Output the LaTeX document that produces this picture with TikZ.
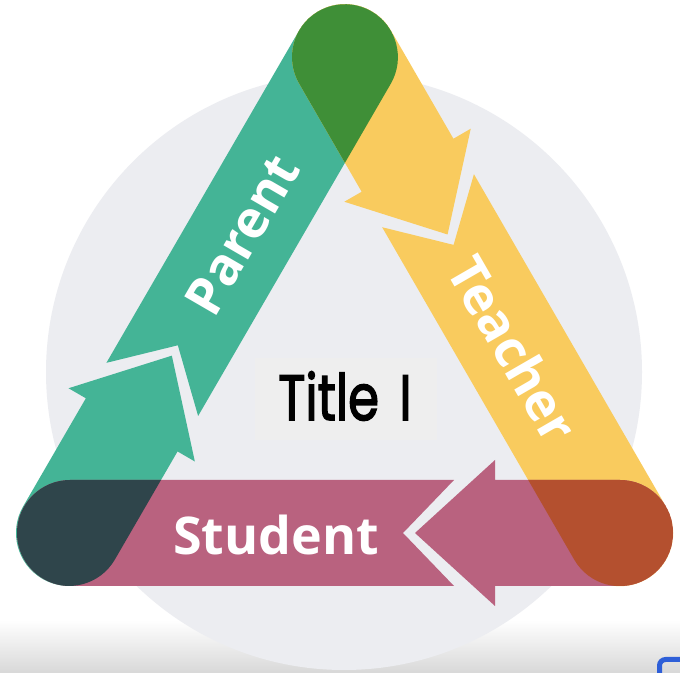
\documentclass[tikz,border=0pt]{standalone}
\usepackage{fontspec}
\usepackage{graphicx}
\setmainfont{Open Sans}
\newfontfamily\titlefont[FakeBold=2.5]{Poppins}
\definecolor{tealc}{HTML}{44B496}
\definecolor{yellowc}{HTML}{F9CB5E}
\definecolor{pinkc}{HTML}{B9627F}
\definecolor{dgreen}{HTML}{3F8F37}
\definecolor{dslate}{HTML}{2F454B}
\definecolor{dorange}{HTML}{B4502F}
\definecolor{circc}{HTML}{ECEDF1}
\definecolor{titlebg}{HTML}{EEEEEE}
\definecolor{uiblue}{HTML}{2E5FD8}
\newcommand\segone{(125,53) -- (0,53) arc[start angle=90,end angle=270,radius=53pt] -- (125,-53) -- (125,-73) -- (205,0) -- (125,73) -- cycle}
\newcommand\segtwo{(166,53) -- (217,0) -- (166,-53) -- (550,-53) arc[start angle=-90,end angle=90,radius=53pt] -- cycle}
\newcommand\mycapsule{(0,53) arc[start angle=90,end angle=270,radius=53pt] -- (550,-53) arc[start angle=-90,end angle=90,radius=53pt] -- cycle}
\tikzset{
  tealband/.style={shift={(69,139)}, rotate=59.89},
  yellowband/.style={shift={(345,615)}, rotate=-59.98},
  pinkband/.style={shift={(620,139)}, rotate=180},
  lbl/.style={text=white, font=\bfseries\fontsize{52}{52}\selectfont, inner sep=0pt}
}
\begin{document}
\begin{tikzpicture}[x=1pt,y=1pt]
\clip (0,0) rectangle (680,672);
\fill[white] (0,0) rectangle (680,672);
\shade[top color=white, bottom color=black!15] (0,0) rectangle (680,52);
\fill[circc] (344,300) circle[radius=298pt];
% title box
\node[fill=titlebg, minimum width=182pt, minimum height=82pt, inner sep=0pt] (box) at (346,273) {};
\node[font=\titlefont\fontsize{64}{64}\selectfont, inner sep=0pt] (title) at (345,276) {\scalebox{0.78}[1]{Title\hspace{26pt}I}};
% bands
\fill[tealc, tealband] \segone \segtwo;
\fill[yellowc, yellowband] \segone \segtwo;
\fill[pinkc, pinkband] \segone \segtwo;
% overlaps
\begin{scope}
  \path[clip, tealband] \mycapsule;
  \fill[dgreen, yellowband] \mycapsule;
\end{scope}
\begin{scope}
  \path[clip, tealband] \mycapsule;
  \fill[dslate, pinkband] \mycapsule;
\end{scope}
\begin{scope}
  \path[clip, yellowband] \mycapsule;
  \fill[dorange, pinkband] \mycapsule;
\end{scope}
% labels
\node[lbl, rotate=59.89] (parent) at (242.1,437.4) {Parent};
\node[lbl, rotate=-59.98] (teacher) at (513.6,323.2) {Teacher};
\node[lbl] (student) at (276,137) {Student};
% UI artefact bottom right
\draw[uiblue, line width=5pt, rounded corners=6pt] (659.5,12.5) rectangle (720,-40);
\end{tikzpicture}
\end{document}
